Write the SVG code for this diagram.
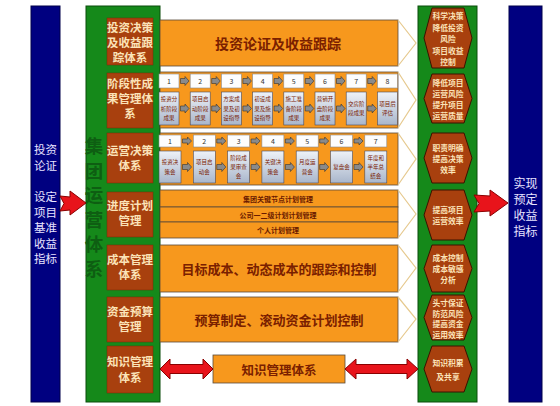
<svg xmlns="http://www.w3.org/2000/svg" width="560" height="406" viewBox="0 0 560 406">
<defs>
<linearGradient id="stepg" x1="0" y1="0" x2="0" y2="1"><stop offset="0" stop-color="#eef2f8"/><stop offset="1" stop-color="#a9b6cb"/></linearGradient>
<style>
text{font-family:"Noto Sans CJK SC","Noto Sans",sans-serif;text-anchor:middle;dominant-baseline:central}
.navy{fill:#000080;stroke:#00004a;stroke-width:1}
.navyt{fill:#e8e4ff;font-size:11.5px}
.green{fill:#15891a;stroke:#0a4d0a;stroke-width:1}
.rbox{fill:#a8400e;stroke:#7a2a05;stroke-width:0.5}
.rboxt{fill:#fbe3b8;font-size:11.5px;font-weight:bold}
.hex{fill:#a8400e;stroke:#3b1200;stroke-width:1}
.hext{fill:#fbe3b8;font-size:7.8px;font-weight:bold}
.orange{fill:#f7981d;stroke:#5a4a3a;stroke-width:0.8}
.ot{fill:#7a2000;font-size:14px;font-weight:bold}
.ots{fill:#6a1a00;font-size:7px;font-weight:bold}
.chev{fill:none;stroke:#e6c98e;stroke-width:1.2}
.num{fill:#fdfdfd;stroke:#8a8a8a;stroke-width:0.6}
.numt{fill:#333;font-size:7px}
.step{fill:url(#stepg);stroke:#4a4a5a;stroke-width:0.6}
.stept{fill:#7a2000;font-size:5.5px}
.sa{fill:#8a8a8a;stroke:#333;stroke-width:0.6}
.red{fill:#e8141b;stroke:#8a0000;stroke-width:1}
.vt{fill:#0e5e12;font-size:18.5px;font-weight:bold}
</style>
</defs>
<rect width="560" height="406" fill="#ffffff"/>

<g id="left-bar">
<rect class="navy" x="31" y="6" width="29" height="396"/>
<text class="navyt" x="45.5" y="149">投资<tspan x="45.5" dy="16">论证</tspan></text>
<text class="navyt" x="45.5" y="196">设定<tspan x="45.5" dy="15.5">项目</tspan><tspan x="45.5" dy="15.5">基准</tspan><tspan x="45.5" dy="15.5">收益</tspan><tspan x="45.5" dy="15.5">指标</tspan></text>
</g>

<g id="right-bar">
<rect class="navy" x="509" y="6" width="33" height="396"/>
<text class="navyt" x="525.5" y="182" style="font-size:12px">实现<tspan x="525.5" dy="16">预定</tspan><tspan x="525.5" dy="16">收益</tspan><tspan x="525.5" dy="16">指标</tspan></text>
</g>

<g id="group-system">
<rect class="green" x="86" y="6" width="74" height="396"/>
<text class="vt" x="94" y="145">集<tspan x="94" dy="24.5">团</tspan><tspan x="94" dy="24.5">运</tspan><tspan x="94" dy="24.5">营</tspan><tspan x="94" dy="24.5">体</tspan><tspan x="94" dy="24.5">系</tspan></text>
</g>

<g id="sys1"><rect class="rbox" x="107" y="18" width="46" height="47"/>
<text class="rboxt" x="130" y="27">投资决策<tspan x="130" dy="15">及收益跟</tspan><tspan x="130" dy="15">踪体系</tspan></text></g>
<g id="sys2"><rect class="rbox" x="107" y="73" width="46" height="55"/>
<text class="rboxt" x="130" y="83">阶段性成<tspan x="130" dy="15">果管理体</tspan><tspan x="130" dy="15">系</tspan></text></g>
<g id="sys3"><rect class="rbox" x="107" y="133" width="46" height="50"/>
<text class="rboxt" x="130" y="150">运营决策<tspan x="130" dy="15">体系</tspan></text></g>
<g id="sys4"><rect class="rbox" x="107" y="192" width="46" height="45"/>
<text class="rboxt" x="130" y="205">进度计划<tspan x="130" dy="15">管理</tspan></text></g>
<g id="sys5"><rect class="rbox" x="107" y="245" width="46" height="45"/>
<text class="rboxt" x="130" y="259">成本管理<tspan x="130" dy="15">体系</tspan></text></g>
<g id="sys6"><rect class="rbox" x="107" y="297" width="46" height="45"/>
<text class="rboxt" x="130" y="311">资金预算<tspan x="130" dy="15">管理</tspan></text></g>
<g id="sys7"><rect class="rbox" x="107" y="346" width="46" height="47"/>
<text class="rboxt" x="130" y="361">知识管理<tspan x="130" dy="16">体系</tspan></text></g>

<g id="row1">
<rect class="orange" x="160" y="20" width="238" height="46"/>
<polyline class="chev" points="398,20 416,43 398,66"/>
<text class="ot" x="278" y="43">投资论证及收益跟踪</text>
</g>

<g id="row2">
<rect class="orange" x="160" y="72" width="238" height="56"/>
<polyline class="chev" points="398,72 416,100 398,128"/>
<g id="r2s1"><rect class="num" x="159" y="74" width="20" height="14"/><text class="numt" x="169" y="81">1</text>
<rect class="step" x="159" y="92" width="20" height="33"/><text class="stept" x="169" y="99">投资分<tspan x="169" dy="9.5">析阶段</tspan><tspan x="169" dy="9.5">成果</tspan></text></g>
<g id="r2s2"><rect class="num" x="190.2" y="74" width="20" height="14"/><text class="numt" x="200.2" y="81">2</text>
<rect class="step" x="190.2" y="92" width="20" height="33"/><text class="stept" x="200.2" y="99">项目启<tspan x="200.2" dy="9.5">动阶段</tspan><tspan x="200.2" dy="9.5">成果</tspan></text></g>
<g id="r2s3"><rect class="num" x="221.4" y="74" width="20" height="14"/><text class="numt" x="231.4" y="81">3</text>
<rect class="step" x="221.4" y="92" width="20" height="33"/><text class="stept" x="231.4" y="99">方案成<tspan x="231.4" dy="9.5">果及初</tspan><tspan x="231.4" dy="9.5">设指导</tspan></text></g>
<g id="r2s4"><rect class="num" x="252.6" y="74" width="20" height="14"/><text class="numt" x="262.6" y="81">4</text>
<rect class="step" x="252.6" y="92" width="20" height="33"/><text class="stept" x="262.6" y="99">初设成<tspan x="262.6" dy="9.5">果及施</tspan><tspan x="262.6" dy="9.5">设指导</tspan></text></g>
<g id="r2s5"><rect class="num" x="283.8" y="74" width="20" height="14"/><text class="numt" x="293.8" y="81">5</text>
<rect class="step" x="283.8" y="92" width="20" height="33"/><text class="stept" x="293.8" y="99">施工准<tspan x="293.8" dy="9.5">备阶段</tspan><tspan x="293.8" dy="9.5">成果</tspan></text></g>
<g id="r2s6"><rect class="num" x="315" y="74" width="20" height="14"/><text class="numt" x="325" y="81">6</text>
<rect class="step" x="315" y="92" width="20" height="33"/><text class="stept" x="325" y="99">营销开<tspan x="325" dy="9.5">盘阶段</tspan><tspan x="325" dy="9.5">成果</tspan></text></g>
<g id="r2s7"><rect class="num" x="346.2" y="74" width="20" height="14"/><text class="numt" x="356.2" y="81">7</text>
<rect class="step" x="346.2" y="92" width="20" height="33"/><text class="stept" x="356.2" y="104">交房阶<tspan x="356.2" dy="9">段成果</tspan></text></g>
<g id="r2s8"><rect class="num" x="377.4" y="74" width="20" height="14"/><text class="numt" x="387.4" y="81">8</text>
<rect class="step" x="377.4" y="92" width="20" height="33"/><text class="stept" x="387.4" y="104">项目后<tspan x="387.4" dy="9">评估</tspan></text></g>
</g>

<g id="row3">
<rect class="orange" x="160" y="133" width="238" height="52"/>
<polyline class="chev" points="398,133 416,159 398,185"/>
<g id="r3s1"><rect class="num" x="159" y="135" width="22" height="12"/><text class="numt" x="170" y="141">1</text>
<rect class="step" x="159" y="151" width="22" height="32"/><text class="stept" x="170" y="162">投资决<tspan x="170" dy="10">策会</tspan></text></g>
<g id="r3s2"><rect class="num" x="193.3" y="135" width="22" height="12"/><text class="numt" x="204.3" y="141">2</text>
<rect class="step" x="193.3" y="151" width="22" height="32"/><text class="stept" x="204.3" y="162">项目启<tspan x="204.3" dy="10">动会</tspan></text></g>
<g id="r3s3"><rect class="num" x="227.6" y="135" width="22" height="12"/><text class="numt" x="238.6" y="141">3</text>
<rect class="step" x="227.6" y="151" width="22" height="32"/><text class="stept" x="238.6" y="158">阶段成<tspan x="238.6" dy="9">果审查</tspan><tspan x="238.6" dy="9">会</tspan></text></g>
<g id="r3s4"><rect class="num" x="261.9" y="135" width="22" height="12"/><text class="numt" x="272.9" y="141">4</text>
<rect class="step" x="261.9" y="151" width="22" height="32"/><text class="stept" x="272.9" y="162">关键决<tspan x="272.9" dy="10">策会</tspan></text></g>
<g id="r3s5"><rect class="num" x="296.2" y="135" width="22" height="12"/><text class="numt" x="307.2" y="141">5</text>
<rect class="step" x="296.2" y="151" width="22" height="32"/><text class="stept" x="307.2" y="162">月度运<tspan x="307.2" dy="10">营会</tspan></text></g>
<g id="r3s6"><rect class="num" x="330.5" y="135" width="22" height="12"/><text class="numt" x="341.5" y="141">6</text>
<rect class="step" x="330.5" y="151" width="22" height="32"/><text class="stept" x="341.5" y="167">复盘会</text></g>
<g id="r3s7"><rect class="num" x="364.8" y="135" width="22" height="12"/><text class="numt" x="375.8" y="141">7</text>
<rect class="step" x="364.8" y="151" width="22" height="32"/><text class="stept" x="375.8" y="158">年度和<tspan x="375.8" dy="9">半年总</tspan><tspan x="375.8" dy="9">结会</tspan></text></g>
</g>

<g id="row4">
<rect class="orange" x="160" y="190" width="238" height="17"/>
<rect class="orange" x="160" y="207" width="238" height="15"/>
<rect class="orange" x="160" y="222" width="238" height="16"/>
<polyline class="chev" points="398,190 416,214 398,238"/>
<text class="ots" x="278" y="198.5">集团关键节点计划管理</text>
<text class="ots" x="278" y="214.5">公司一二级计划计划管理</text>
<text class="ots" x="278" y="230">个人计划管理</text>
</g>

<g id="row5">
<rect class="orange" x="160" y="245" width="238" height="47"/>
<polyline class="chev" points="398,245 416,268 398,292"/>
<text class="ot" x="279" y="268" style="font-size:13px">目标成本、动态成本的跟踪和控制</text>
</g>

<g id="row6">
<rect class="orange" x="160" y="297" width="238" height="45"/>
<polyline class="chev" points="398,297 416,319 398,342"/>
<text class="ot" x="279" y="319" style="font-size:13px">预算制定、滚动资金计划控制</text>
</g>

<g id="row7">
<rect class="orange" x="213" y="355" width="132" height="28"/>
<text class="ot" x="279" y="369" style="font-size:12.5px">知识管理体系</text>
</g>

<g id="results">
<rect class="green" x="418" y="6" width="59" height="396"/>
<g id="res1"><polygon class="hex" points="432,8 464,8 472,38 464,68 432,68 424,38"/>
<text class="hext" x="448" y="15">科学决策<tspan x="448" dy="11.5">降低投资</tspan><tspan x="448" dy="11.5">风险</tspan><tspan x="448" dy="11.5">项目收益</tspan><tspan x="448" dy="11.5">控制</tspan></text></g>
<g id="res2"><polygon class="hex" points="432,74 464,74 472,98.5 464,123 432,123 424,98.5"/>
<text class="hext" x="448" y="82">降低项目<tspan x="448" dy="11">运营风险</tspan><tspan x="448" dy="11">提升项目</tspan><tspan x="448" dy="11">运营质量</tspan></text></g>
<g id="res3"><polygon class="hex" points="432,133 464,133 472,158 464,183 432,183 424,158"/>
<text class="hext" x="448" y="147">职责明确<tspan x="448" dy="11">提高决策</tspan><tspan x="448" dy="11">效率</tspan></text></g>
<g id="res4"><polygon class="hex" points="432,190 464,190 472,215 464,240 432,240 424,215"/>
<text class="hext" x="448" y="209">提高项目<tspan x="448" dy="11">运营效率</tspan></text></g>
<g id="res5"><polygon class="hex" points="432,245 464,245 472,268.5 464,292 432,292 424,268.5"/>
<text class="hext" x="448" y="257">成本控制<tspan x="448" dy="11">成本敏感</tspan><tspan x="448" dy="11">分析</tspan></text></g>
<g id="res6"><polygon class="hex" points="432,295 464,295 472,317.5 464,340 432,340 424,317.5"/>
<text class="hext" x="448" y="302">头寸保证<tspan x="448" dy="10.5">防范风险</tspan><tspan x="448" dy="10.5">提高资金</tspan><tspan x="448" dy="10.5">运用效率</tspan></text></g>
<g id="res7"><polygon class="hex" points="432,346 464,346 472,369 464,392 432,392 424,369"/>
<text class="hext" x="448" y="362">知识积累<tspan x="448" dy="14">及共享</tspan></text></g>
</g>

<g id="connectors">
<polygon class="red" points="60,196 70,197 70,191 86,203 70,215 70,210 60,211 64,203.5"/>
<polygon class="red" points="474,195 490,196 490,190 508,203 490,216 490,211 474,212 479,203.5"/>
<polygon class="red" points="160,369 170,359 170,364.5 203,364.5 203,359 213,369 203,379 203,373.5 170,373.5 170,379"/>
<polygon class="red" points="345,369 356,359 356,364.5 407,364.5 407,359 418,369 407,379 407,373.5 356,373.5 356,379"/>
<g id="r2arrows">
<polygon class="sa" points="180.5,78.5 185,78.5 185,76.5 189,81 185,85.5 185,83.5 180.5,83.5"/>
<polygon class="sa" points="211.7,78.5 216.2,78.5 216.2,76.5 220.2,81 216.2,85.5 216.2,83.5 211.7,83.5"/>
<polygon class="sa" points="242.9,78.5 247.4,78.5 247.4,76.5 251.4,81 247.4,85.5 247.4,83.5 242.9,83.5"/>
<polygon class="sa" points="274.1,78.5 278.6,78.5 278.6,76.5 282.6,81 278.6,85.5 278.6,83.5 274.1,83.5"/>
<polygon class="sa" points="305.3,78.5 309.8,78.5 309.8,76.5 313.8,81 309.8,85.5 309.8,83.5 305.3,83.5"/>
<polygon class="sa" points="336.5,78.5 341,78.5 341,76.5 345,81 341,85.5 341,83.5 336.5,83.5"/>
<polygon class="sa" points="367.7,78.5 372.2,78.5 372.2,76.5 376.2,81 372.2,85.5 372.2,83.5 367.7,83.5"/>
<polygon class="sa" points="180.5,106 185,106 185,104 189,108.5 185,113 185,111 180.5,111"/>
<polygon class="sa" points="211.7,106 216.2,106 216.2,104 220.2,108.5 216.2,113 216.2,111 211.7,111"/>
<polygon class="sa" points="242.9,106 247.4,106 247.4,104 251.4,108.5 247.4,113 247.4,111 242.9,111"/>
<polygon class="sa" points="274.1,106 278.6,106 278.6,104 282.6,108.5 278.6,113 278.6,111 274.1,111"/>
<polygon class="sa" points="305.3,106 309.8,106 309.8,104 313.8,108.5 309.8,113 309.8,111 305.3,111"/>
<polygon class="sa" points="336.5,106 341,106 341,104 345,108.5 341,113 341,111 336.5,111"/>
<polygon class="sa" points="367.7,106 372.2,106 372.2,104 376.2,108.5 372.2,113 372.2,111 367.7,111"/>
</g>
<g id="r3arrows">
<polygon class="sa" points="182.5,139 187.5,139 187.5,137 191.5,141 187.5,145 187.5,143 182.5,143"/>
<polygon class="sa" points="216.8,139 221.8,139 221.8,137 225.8,141 221.8,145 221.8,143 216.8,143"/>
<polygon class="sa" points="251.1,139 256.1,139 256.1,137 260.1,141 256.1,145 256.1,143 251.1,143"/>
<polygon class="sa" points="285.4,139 290.4,139 290.4,137 294.4,141 290.4,145 290.4,143 285.4,143"/>
<polygon class="sa" points="319.7,139 324.7,139 324.7,137 328.7,141 324.7,145 324.7,143 319.7,143"/>
<polygon class="sa" points="354,139 359,139 359,137 363,141 359,145 359,143 354,143"/>
<polygon class="sa" points="182.5,164.5 187.5,164.5 187.5,162.5 191.5,167 187.5,171.5 187.5,169.5 182.5,169.5"/>
<polygon class="sa" points="216.8,164.5 221.8,164.5 221.8,162.5 225.8,167 221.8,171.5 221.8,169.5 216.8,169.5"/>
<polygon class="sa" points="251.1,164.5 256.1,164.5 256.1,162.5 260.1,167 256.1,171.5 256.1,169.5 251.1,169.5"/>
<polygon class="sa" points="285.4,164.5 290.4,164.5 290.4,162.5 294.4,167 290.4,171.5 290.4,169.5 285.4,169.5"/>
<polygon class="sa" points="319.7,164.5 324.7,164.5 324.7,162.5 328.7,167 324.7,171.5 324.7,169.5 319.7,169.5"/>
<polygon class="sa" points="354,164.5 359,164.5 359,162.5 363,167 359,171.5 359,169.5 354,169.5"/>
</g>
</g>
</svg>
